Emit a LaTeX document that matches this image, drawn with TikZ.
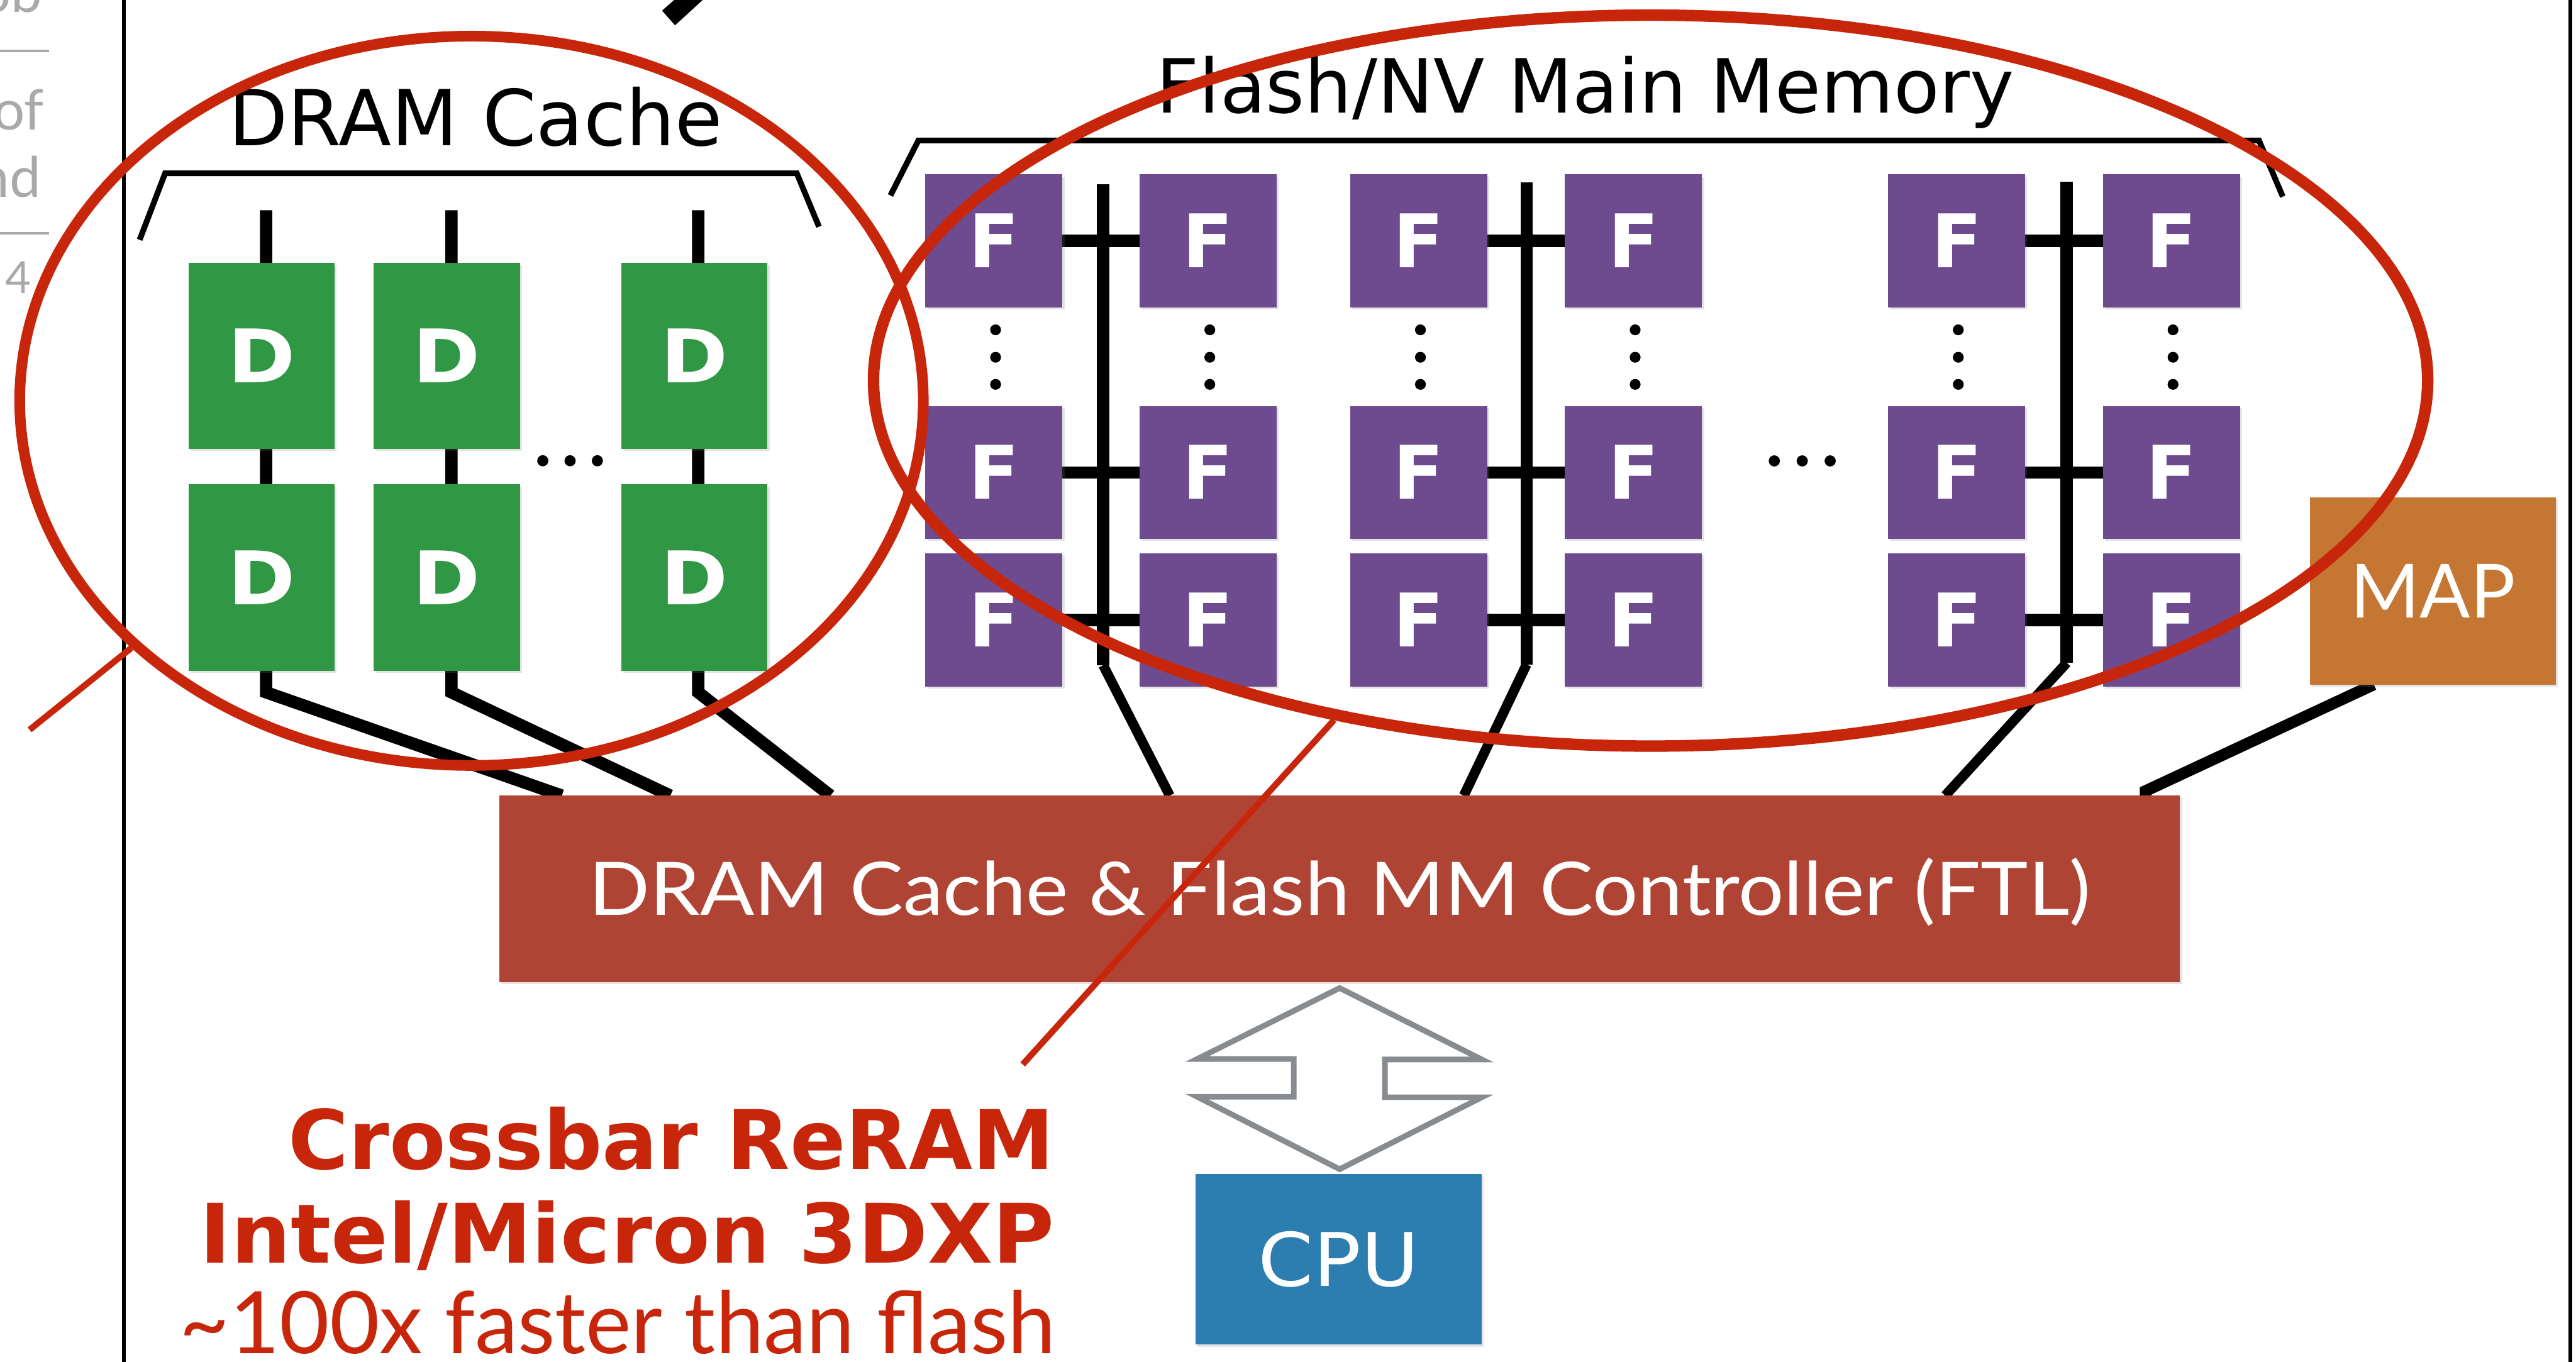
\documentclass[tikz,border=0pt]{standalone}
\usepackage{fontspec}
\setmainfont{DejaVu Sans}
\newfontfamily\gill{Lato}
\usetikzlibrary{shapes.geometric,calc,shadows}

\definecolor{dramgreen}{RGB}{48,152,69}
\definecolor{flashpurple}{RGB}{110,74,142}
\definecolor{maporange}{RGB}{196,118,50}
\definecolor{ctrlred}{RGB}{176,68,52}
\definecolor{cpublue}{RGB}{45,126,176}
\definecolor{annored}{RGB}{200,38,10}
\definecolor{arrowgrey}{RGB}{136,139,143}
\definecolor{margingrey}{RGB}{168,170,170}

\pgfdeclarelayer{background}
\pgfsetlayers{background,main}

\begin{document}
\begin{tikzpicture}[x=1pt,y=-1pt,
  chip/.style={inner sep=0pt, outer sep=0pt, text=white,
    drop shadow={shadow xshift=1.2pt, shadow yshift=-1.2pt, opacity=0.22}},
  dchip/.style={chip, fill=dramgreen, minimum width=89pt, minimum height=113.5pt,
    font=\fontsize{45}{50}\selectfont\bfseries, text height=32.7pt, text depth=0pt},
  fchip/.style={chip, fill=flashpurple, minimum width=83.5pt, minimum height=81pt,
    font=\fontsize{45}{50}\selectfont\bfseries, text height=32.5pt, text depth=0pt},
  ctrlbox/.style={chip, fill=ctrlred, minimum width=1023pt, minimum height=113.7pt,
    font=\gill\fontsize{45}{50}\selectfont, text height=32.2pt, text depth=0pt},
  mapbox/.style={chip, fill=maporange, minimum width=149.7pt, minimum height=113.9pt,
    font=\gill\fontsize{45.5}{50}\selectfont, text height=32.6pt, text depth=0pt},
  cpubox/.style={chip, fill=cpublue, minimum width=174.2pt, minimum height=104pt,
    font=\fontsize{45}{50}\selectfont, text height=32.8pt, text depth=0pt},
  title/.style={inner sep=0pt, font=\fontsize{45.5}{50}\selectfont},
  brace/.style={line width=3.5pt, line join=miter},
  dwire/.style={line width=7.5pt, line join=miter},
  fbus/.style={line width=7.5pt, line join=miter},
  fdiag/.style={line width=6pt, line join=miter},
  ring/.style={ellipse, draw=annored, inner sep=0pt},
  pointer/.style={draw=annored, line width=3.8pt},
  redtext/.style={inner sep=0pt, text=annored, anchor=base east},
  margintext/.style={inner sep=0pt, text=margingrey, anchor=base east, font=\gill\fontsize{34}{40}\selectfont},
  dotmark/.style={fill=black}
]
\useasboundingbox (0,0) rectangle (1568,829.1);
\begin{pgfonlayer}{background}
  \fill[white] (0,0) rectangle (1568,829.1);
\end{pgfonlayer}

% slide frame rules
\draw[line width=2.2pt] (75.5,-5) -- (75.5,835);
\draw[line width=2.6pt] (1564.5,-5) -- (1564.5,835);

% neighbouring page fragments in the margin
\node[margintext] (mob) at (26,7.3) {ob};
\node[margintext] (mof) at (27,79) {of};
\node[margintext] (mnd) at (25,120) {nd};
\node[margintext, font=\gill\fontsize{27}{30}\selectfont] (mpage) at (19,178.6) {4};
\draw[margingrey, line width=1.5pt] (0,31) -- (30,31);
\draw[margingrey, line width=1.5pt] (0,142) -- (30,142);

% tail of an arrow entering from above
\fill (403,6.5) -- (410.9,15.4) -- (427.7,0) -- (410.3,0) -- cycle;

% group titles and brackets
\node[title, anchor=base, font=\fontsize{47}{50}\selectfont] (dramtitle) at (289.5,88.5) {DRAM Cache};
\node[title, anchor=base] (flashtitle) at (965,68.6) {Flash/NV Main Memory};
\draw[brace] (85,146) -- (100.5,105.5) -- (485,105.5) -- (498.5,138);
\draw[brace] (542,119) -- (559,85.5) -- (1375,85.5) -- (1389.5,119.7);

% DRAM chips
\node[dchip] (d11) at (159.2,216.7) {\scalebox{1.1}[1]{D}};
\node[dchip] (d12) at (272,216.7) {\scalebox{1.1}[1]{D}};
\node[dchip] (d13) at (422.7,216.7) {\scalebox{1.1}[1]{D}};
\node[dchip] (d21) at (159.2,351.7) {\scalebox{1.1}[1]{D}};
\node[dchip] (d22) at (272,351.7) {\scalebox{1.1}[1]{D}};
\node[dchip] (d23) at (422.7,351.7) {\scalebox{1.1}[1]{D}};

% flash chips
\foreach \c/\x in {1/605,2/735.4,3/863.6,4/994.3,5/1191,6/1321.7}{
  \node[fchip] (f1\c) at (\x,146.7) {F};
  \node[fchip] (f2\c) at (\x,287.7) {F};
  \node[fchip] (f3\c) at (\x,377.4) {F};
}

% controller, map table and CPU
\node[ctrlbox] (ctrl) at (815.5,541.2) {\scalebox{1.085}[1]{DRAM Cache \& Flash MM Controller (FTL)}};
\node[mapbox] (map) at (1480.9,359.8) {MAP};
\node[cpubox] (cpu) at (814.9,766.6) {\scalebox{1.07}[1]{CPU}};

% wiring behind the chips
\begin{pgfonlayer}{background}
  \coordinate (dt1) at (162,128);   \coordinate (db1) at (162,421.5);
  \coordinate (dt2) at (274.8,128); \coordinate (db2) at (274.8,421.5);
  \coordinate (dt3) at (425,128);   \coordinate (db3) at (425,421.5);
  \draw[dwire] (dt1) -- (db1) -- ($(ctrl.north west)+(38,0)$);
  \draw[dwire] (dt2) -- (db2) -- ($(ctrl.north west)+(104,0)$);
  \draw[dwire] (dt3) -- (db3) -- ($(ctrl.north west)+(201.5,0)$);

  \coordinate (ft1) at (671.5,112);  \coordinate (fb1) at (671.5,405);
  \coordinate (ft2) at (929.2,111);  \coordinate (fb2) at (929.2,404.5);
  \coordinate (ft3) at (1258,110.5); \coordinate (fb3) at (1258,403.5);
  \draw[fbus] (ft1) -- (fb1);
  \draw[fbus] (ft2) -- (fb2);
  \draw[fbus] (ft3) -- (fb3);
  \draw[fdiag] (fb1) -- ($(ctrl.north west)+(408,0)$);
  \draw[fdiag] (fb2) -- ($(ctrl.north west)+(587,0)$);
  \draw[fdiag] (fb3) -- ($(ctrl.north west)+(880,0)$);
  \foreach \r in {1,2,3}{
    \draw[fbus] (f\r1.center) -- (f\r2.center);
    \draw[fbus] (f\r3.center) -- (f\r4.center);
    \draw[fbus] (f\r5.center) -- (f\r6.center);
  }

  \coordinate (mapbend) at (1306,481.5);
  \draw[fdiag, line width=7pt] ($(map.south)+(-36,0)$) -- (mapbend) -- ($(ctrl.north west)+(1002,0)$);
\end{pgfonlayer}

% ellipsis marks
\foreach \x in {330.4,347,363.6} \fill[dotmark] (\x,280.5) circle (3.4);
\foreach \x in {1080,1097,1114} \fill[dotmark] (\x,280.6) circle (3.4);
\foreach \x in {606,736.4,864.6,995.3,1192,1322.7}
  \foreach \y in {200.8,217.5,234} \fill[dotmark] (\x,\y) circle (3.3);

% controller <-> CPU double arrow
\coordinate (atop) at (815.4,601.5);
\draw[arrowgrey, fill=white, line width=3.4pt, line join=miter]
  (atop) -- ++(86.6,43.5) -- ++(-59,0) -- ++(0,23) -- ++(59,0)
  -- (815.4,711.8) -- ++(-86.7,-44.1) -- ++(58.8,0) -- ++(0,-23) -- ++(-58.8,0) -- cycle;

% annotation
\node[ring, line width=6.5pt, minimum width=550pt, minimum height=444pt] (dramring) at (287,244) {};
\node[ring, line width=7pt, minimum width=946pt, minimum height=445pt] (flashring) at (1004.7,231.7) {};
\coordinate (p1end) at (18,444.3);
\coordinate (p2end) at (622.5,648);
\draw[pointer] (dramring.216.7) -- (p1end);
\draw[pointer] (flashring.227.5) -- (p2end);

\node[redtext, font=\fontsize{50}{55}\selectfont\bfseries] (t1) at (642,711.7) {Crossbar ReRAM};
\node[redtext, font=\fontsize{50}{55}\selectfont\bfseries] (t2) at (642,768.7) {\scalebox{1.025}[1]{Intel/Micron 3DXP}};
\node[redtext, font=\gill\fontsize{52.5}{55}\selectfont] (t3) at (643,824) {\textasciitilde 100x faster than flash};
\end{tikzpicture}
\end{document}
